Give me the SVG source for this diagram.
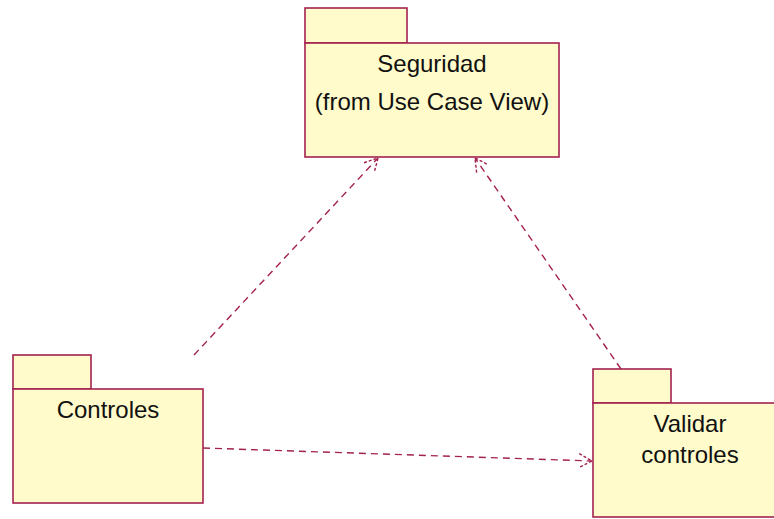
<svg xmlns="http://www.w3.org/2000/svg" width="774" height="519" viewBox="0 0 774 519">
  <style>
    .pkg { fill: #FFFBCB; stroke: #A3224F; stroke-width: 1.6; }
    .lbl { font-family: "Liberation Sans", Arial, sans-serif; font-size: 24px; fill: #111; text-anchor: middle; }
    .dep { fill: none; stroke: #A3224F; stroke-width: 1.4; stroke-dasharray: 7 5; }
  </style>
  <defs>
    <marker id="open" viewBox="-14 -8 16 16" refX="0" refY="0" markerWidth="16" markerHeight="16" markerUnits="userSpaceOnUse" orient="auto">
      <path d="M-13,-7 L0,0 L-13,7" fill="none" stroke="#A3224F" stroke-width="1.4" stroke-dasharray="3 2"/>
    </marker>
  </defs>
  <rect width="774" height="519" fill="#FFFFFF"/>

  <!-- dependencies -->
  <g id="connectors">
    <line class="dep" x1="194" y1="355" x2="378" y2="158" marker-end="url(#open)"/>
    <line class="dep" x1="621" y1="369" x2="475" y2="158" marker-end="url(#open)"/>
    <line class="dep" x1="203" y1="448" x2="592" y2="461" marker-end="url(#open)"/>
  </g>

  <g id="seguridad">
    <rect class="pkg" x="305" y="8" width="102" height="35"/>
    <rect class="pkg" x="305" y="43" width="254" height="114"/>
    <text class="lbl" x="432" y="72">Seguridad</text>
    <text class="lbl" x="432" y="110">(from Use Case View)</text>
  </g>

  <g id="controles">
    <rect class="pkg" x="13" y="355" width="78" height="34"/>
    <rect class="pkg" x="13" y="389" width="190" height="114"/>
    <text class="lbl" x="108" y="418">Controles</text>
  </g>

  <g id="validar">
    <rect class="pkg" x="593" y="369" width="78" height="34"/>
    <rect class="pkg" x="593" y="403" width="194" height="114"/>
    <text class="lbl" x="690" y="432">Validar</text>
    <text class="lbl" x="690" y="463">controles</text>
  </g>
</svg>
